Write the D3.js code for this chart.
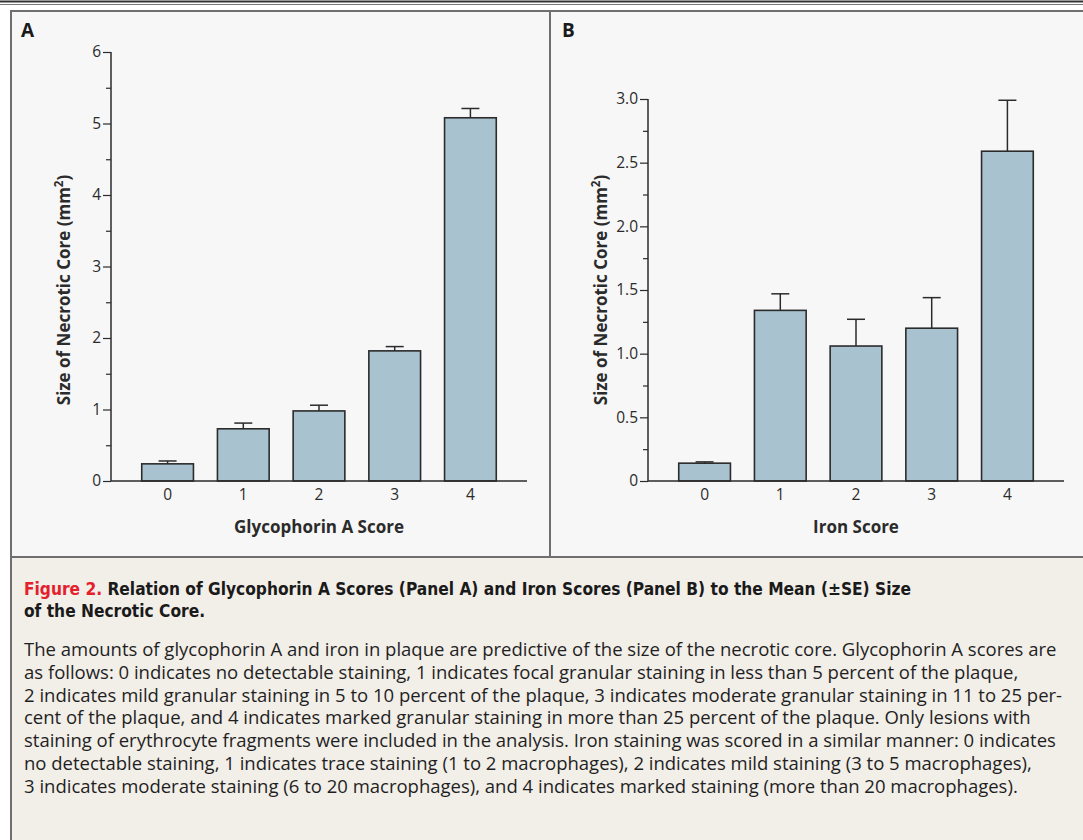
<!DOCTYPE html>
<html>
<head>
<meta charset="utf-8">
<script src="https://cdn.jsdelivr.net/npm/d3@7"></script>
<style>
  html, body { margin: 0; padding: 0; background: #ffffff; }
  svg { display: block; }
</style>
</head>
<body>
<svg id="chart" width="1083" height="840"></svg>
<script>
// ---------- data ----------
const scoresA = ["0", "1", "2", "3", "4"];
const meansA = [0.24, 0.73, 0.98, 1.82, 5.08];
const seA = [0.04, 0.08, 0.08, 0.06, 0.13];
const yTicksA = [0, 1, 2, 3, 4, 5, 6];
const yMinorA = [0.5, 1.5, 2.5, 3.5, 4.5, 5.5];

const scoresB = ["0", "1", "2", "3", "4"];
const meansB = [0.14, 1.34, 1.06, 1.20, 2.59];
const seB = [0.01, 0.13, 0.21, 0.24, 0.40];
const yTicksB = [0, 0.5, 1.0, 1.5, 2.0, 2.5, 3.0];
const yMinorB = [0.25, 0.75, 1.25, 1.75, 2.25, 2.75];

const captionTitle1 = "Relation of Glycophorin A Scores (Panel A) and Iron Scores (Panel B) to the Mean (\u00b1SE) Size";
const captionTitle2 = "of the Necrotic Core.";
const captionLines = [
  "The amounts of glycophorin A and iron in plaque are predictive of the size of the necrotic core. Glycophorin A scores are",
  "as follows: 0 indicates no detectable staining, 1 indicates focal granular staining in less than 5 percent of the plaque,",
  "2 indicates mild granular staining in 5 to 10 percent of the plaque, 3 indicates moderate granular staining in 11 to 25 per-",
  "cent of the plaque, and 4 indicates marked granular staining in more than 25 percent of the plaque. Only lesions with",
  "staining of erythrocyte fragments were included in the analysis. Iron staining was scored in a similar manner: 0 indicates",
  "no detectable staining, 1 indicates trace staining (1 to 2 macrophages), 2 indicates mild staining (3 to 5 macrophages),",
  "3 indicates moderate staining (6 to 20 macrophages), and 4 indicates marked staining (more than 20 macrophages)."
];

// ---------- styles ----------
const INK = "#2b2b2b";
const BAR = "#a9c2cf";
const FONT = "'Open Sans', Lato, 'DejaVu Sans', sans-serif";

const svg = d3.select("#chart");

// frame / backgrounds
svg.append("rect").attr("x", 0).attr("y", 0).attr("width", 1083).attr("height", 840).attr("fill", "#ffffff");
svg.append("rect").attr("x", 11).attr("y", 11).attr("width", 1080).attr("height", 546).attr("fill", "#f7f7f7");
svg.append("rect").attr("x", 11).attr("y", 557).attr("width", 1080).attr("height", 290).attr("fill", "#f2eee8");
// top rules
svg.append("line").attr("x1", 0).attr("x2", 1083).attr("y1", 1.5).attr("y2", 1.5).attr("stroke", "#333").attr("stroke-width", 2);
svg.append("line").attr("x1", 0).attr("x2", 1083).attr("y1", 4.5).attr("y2", 4.5).attr("stroke", "#777").attr("stroke-width", 1);
// panel borders
const border = "#6f6f6f";
svg.append("line").attr("x1", 10).attr("x2", 1083).attr("y1", 11).attr("y2", 11).attr("stroke", border).attr("stroke-width", 2);
svg.append("line").attr("x1", 11).attr("x2", 11).attr("y1", 10).attr("y2", 840).attr("stroke", border).attr("stroke-width", 2);
svg.append("line").attr("x1", 550).attr("x2", 550).attr("y1", 11).attr("y2", 557).attr("stroke", border).attr("stroke-width", 2);
svg.append("line").attr("x1", 10).attr("x2", 1083).attr("y1", 557).attr("y2", 557).attr("stroke", border).attr("stroke-width", 2);

function panel(opts) {
  const { letter, letterX, axisX, cats, means, se, yMax, ticks, minor, fmt, xTitle } = opts;
  const g = svg.append("g");
  const x = d3.scaleBand().domain(cats).range([axisX, axisX + 416]).paddingInner(0.317).paddingOuter(0.406);
  const y = d3.scaleLinear().domain([0, yMax]).range([481, yMax === 6 ? 52 : 99]);

  g.append("text").attr("x", letterX).attr("y", 37).attr("font-family", FONT).attr("font-weight", 700)
    .attr("font-size", 19).attr("fill", "#1a1a1a").text(letter);

  // minor ticks
  const minorAxis = d3.axisLeft(y).tickValues(minor).tickSize(5).tickFormat("");
  const gm = g.append("g").attr("transform", `translate(${axisX},0)`).call(minorAxis);
  gm.select(".domain").remove();
  gm.selectAll("line").attr("stroke", INK).attr("stroke-width", 1.2);

  // major axis
  const yAxis = d3.axisLeft(y).tickValues(ticks).tickSize(8).tickPadding(2).tickFormat(fmt);
  const ga = g.append("g").attr("transform", `translate(${axisX},0)`).call(yAxis);
  ga.select(".domain").attr("stroke", INK).attr("stroke-width", 1.5).attr("d", `M0,${y(0)}V${y(yMax)}`);
  ga.selectAll("line").attr("stroke", INK).attr("stroke-width", 1.2);
  ga.selectAll("text").attr("font-family", FONT).attr("font-size", 15.5).attr("fill", INK);

  // bars
  g.selectAll("rect.bar").data(cats).enter().append("rect").attr("class", "bar")
    .attr("x", d => x(d)).attr("width", x.bandwidth())
    .attr("y", (d, i) => y(means[i])).attr("height", (d, i) => y(0) - y(means[i]))
    .attr("fill", BAR).attr("stroke", INK).attr("stroke-width", 1.6);

  // error bars (upper only)
  const eb = g.selectAll("g.err").data(cats).enter().append("g").attr("class", "err");
  eb.append("line").attr("x1", d => x(d) + x.bandwidth() / 2).attr("x2", d => x(d) + x.bandwidth() / 2)
    .attr("y1", (d, i) => y(means[i])).attr("y2", (d, i) => y(means[i] + se[i]))
    .attr("stroke", INK).attr("stroke-width", 1.5);
  eb.append("line").attr("x1", d => x(d) + x.bandwidth() / 2 - 9).attr("x2", d => x(d) + x.bandwidth() / 2 + 9)
    .attr("y1", (d, i) => y(means[i] + se[i])).attr("y2", (d, i) => y(means[i] + se[i]))
    .attr("stroke", INK).attr("stroke-width", 1.5);

  // x axis line
  const xAxis = d3.axisBottom(x).tickSize(0).tickPadding(8);
  const gx = g.append("g").attr("transform", `translate(0,${y(0)})`).call(xAxis);
  gx.select(".domain").attr("stroke", INK).attr("stroke-width", 1.5).attr("d", `M${axisX},0H${axisX + 416}`);
  gx.selectAll("text").attr("font-family", FONT).attr("font-size", 15.5).attr("fill", INK);

  // titles
  g.append("text").attr("x", axisX + 208).attr("y", 533).attr("text-anchor", "middle")
    .attr("font-family", FONT).attr("font-weight", 700).attr("font-size", 17).attr("fill", INK).text(xTitle);
  const yt = g.append("text").attr("transform", `translate(${axisX - 41},290) rotate(-90)`).attr("text-anchor", "middle")
    .attr("font-family", FONT).attr("font-weight", 700).attr("font-size", 17).attr("fill", INK);
  yt.append("tspan").text("Size of Necrotic Core (mm");
  yt.append("tspan").attr("baseline-shift", "super").attr("font-size", 11.5).text("2");
  yt.append("tspan").text(")");
}

panel({ letter: "A", letterX: 21, axisX: 111, cats: scoresA, means: meansA, se: seA, yMax: 6,
  ticks: yTicksA, minor: yMinorA, fmt: d3.format("d"), xTitle: "Glycophorin A Score" });
panel({ letter: "B", letterX: 562, axisX: 648, cats: scoresB, means: meansB, se: seB, yMax: 3,
  ticks: yTicksB, minor: yMinorB, fmt: d => d === 0 ? "0" : d3.format(".1f")(d), xTitle: "Iron Score" });

// caption
const TFONT = "'Liberation Sans Narrow', 'DejaVu Sans Condensed', sans-serif";
const t1 = svg.append("text").attr("x", 24).attr("y", 595).attr("font-family", TFONT).attr("font-weight", 700)
  .attr("font-size", 17.2).attr("fill", "#1a1a1a");
t1.append("tspan").attr("fill", "#e4202d").text("Figure 2.");
t1.append("tspan").text(" " + captionTitle1);
svg.append("text").attr("x", 24).attr("y", 617).attr("font-family", TFONT).attr("font-weight", 700)
  .attr("font-size", 17.2).attr("fill", "#1a1a1a").text(captionTitle2);

svg.append("g").selectAll("text").data(captionLines).enter().append("text")
  .attr("x", 24).attr("y", (d, i) => 656 + i * 22.8)
  .attr("font-family", FONT).attr("font-size", 18.5).attr("fill", "#1f1f1f").text(d => d);
</script>
</body>
</html>
